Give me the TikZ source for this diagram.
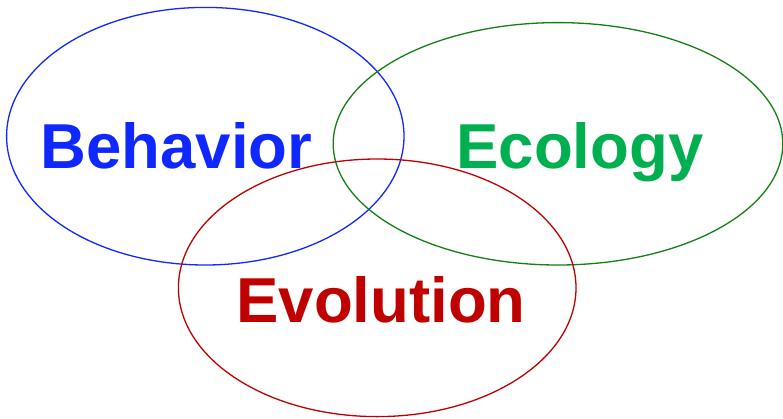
\documentclass[tikz,border=0pt]{standalone}
\usepackage{fontspec}
\setmainfont{Liberation Sans}
\definecolor{behblue}{RGB}{14,40,255}
\definecolor{ecogreen}{RGB}{0,176,80}
\definecolor{ecoline}{RGB}{20,128,20}
\definecolor{evored}{RGB}{192,0,0}

\begin{document}
\begin{tikzpicture}[x=1pt,y=-1pt,line cap=round,line join=round,
  every node/.style={inner sep=0pt},
  lab/.style={anchor=base west,font=\fontsize{63.5}{63.5}\selectfont\bfseries}]
  \useasboundingbox (0,0) rectangle (783,418);
  % 椭圆
  \foreach \cx/\cy/\rx/\ry/\col in {%
    205.3/136.2/198.7/128.8/behblue,%
    558.0/143.8/224.8/121.2/ecoline,%
    377.2/287.8/198.8/128.8/evored%
  } {
    \draw[line width=1.3pt,\col] (\cx,\cy) ellipse[x radius=\rx pt,y radius=\ry pt];
  }
  % 文字
  \node[lab,text=behblue] (beh) at (40.5,168.3) {Behavior};
  \node[lab,text=ecogreen] (eco) at (456.2,168.3) {Ecology};
  \node[lab,text=evored] (evo) at (236.2,322.3) {Evolution};
\end{tikzpicture}
\end{document}
